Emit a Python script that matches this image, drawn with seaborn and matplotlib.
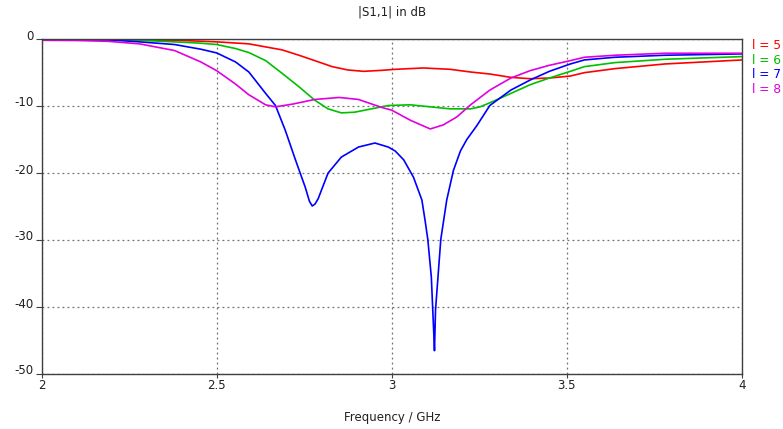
import matplotlib
matplotlib.use("Agg")
import matplotlib.pyplot as plt
import matplotlib.transforms as mtransforms
import seaborn as sns
import pandas as pd

# ---------------- data ----------------
freq_l5 = [2.00, 2.38, 2.455, 2.50, 2.592, 2.687, 2.735, 2.78, 2.83, 2.875, 2.92, 2.972, 3.01,
           3.09, 3.167, 3.225, 3.28, 3.34, 3.395, 3.45, 3.51, 3.55, 3.637, 3.78, 4.00]
s11_l5 = [-0.1, -0.27, -0.4, -0.5, -0.8, -1.7, -2.5, -3.3, -4.2, -4.7, -4.9, -4.75, -4.6,
          -4.4, -4.6, -5.0, -5.3, -5.8, -6.0, -5.9, -5.6, -5.1, -4.5, -3.8, -3.2]

freq_l6 = [2.00, 2.28, 2.38, 2.455, 2.50, 2.554, 2.592, 2.64, 2.687, 2.735, 2.78, 2.818, 2.856,
           2.894, 2.942, 2.99, 3.053, 3.11, 3.167, 3.225, 3.252, 3.28, 3.34, 3.395, 3.45, 3.51,
           3.55, 3.637, 3.78, 4.00]
s11_l6 = [-0.1, -0.27, -0.5, -0.7, -0.9, -1.5, -2.1, -3.3, -5.2, -7.2, -9.2, -10.5, -11.1,
          -11.0, -10.5, -10.0, -9.9, -10.2, -10.5, -10.5, -10.2, -9.6, -8.2, -6.9, -5.9, -4.9,
          -4.2, -3.6, -3.1, -2.7]

freq_l7 = [2.00, 2.19, 2.28, 2.38, 2.455, 2.50, 2.554, 2.592, 2.64, 2.668, 2.696, 2.725, 2.753,
           2.765, 2.773, 2.781, 2.79, 2.818, 2.856, 2.905, 2.952, 2.99, 3.01, 3.034, 3.062,
           3.086, 3.095, 3.103, 3.113, 3.12, 3.122, 3.125, 3.132, 3.14, 3.157, 3.176, 3.196,
           3.214, 3.243, 3.28, 3.34, 3.395, 3.45, 3.51, 3.55, 3.637, 3.78, 4.00]
s11_l7 = [-0.2, -0.2, -0.5, -0.9, -1.6, -2.15, -3.5, -5.0, -8.2, -10.0, -13.7, -18.1, -22.2,
          -24.3, -25.0, -24.7, -23.9, -20.1, -17.7, -16.2, -15.6, -16.2, -16.8, -18.1, -20.7,
          -24.1, -27.1, -30.0, -35.6, -44.0, -46.6, -40.5, -35.6, -30.0, -24.1, -19.7, -16.8,
          -15.1, -13.0, -10.0, -7.7, -6.2, -4.9, -3.8, -3.2, -2.8, -2.5, -2.3]

freq_l8 = [2.00, 2.10, 2.19, 2.28, 2.38, 2.455, 2.50, 2.554, 2.592, 2.64, 2.668, 2.716, 2.78,
           2.85, 2.905, 2.972, 3.00, 3.053, 3.11, 3.147, 3.186, 3.225, 3.28, 3.34, 3.395, 3.45,
           3.51, 3.55, 3.637, 3.78, 4.00]
s11_l8 = [-0.27, -0.3, -0.42, -0.8, -1.8, -3.5, -4.8, -6.8, -8.4, -9.9, -10.2, -9.8, -9.1,
          -8.8, -9.1, -10.3, -10.7, -12.2, -13.5, -12.9, -11.7, -9.9, -7.7, -5.9, -4.8, -4.0,
          -3.3, -2.8, -2.5, -2.2, -2.2]

series_labels = ["l = 5", "l = 6", "l = 7", "l = 8"]
series_colors = ["#ff0000", "#00c000", "#0000ff", "#e000e0"]

xticks = [2, 2.5, 3, 3.5, 4]
xtick_labels = ["2", "2.5", "3", "3.5", "4"]
yticks = [0, -10, -20, -30, -40, -50]
ytick_labels = ["0", "-10", "-20", "-30", "-40", "-50"]

title_text = "|S1,1| in dB"
xlabel_text = "Frequency / GHz"

# ---------------- build long-form table ----------------
frames = []
for f, s, lab in zip([freq_l5, freq_l6, freq_l7, freq_l8],
                     [s11_l5, s11_l6, s11_l7, s11_l8], series_labels):
    frames.append(pd.DataFrame({"freq": f, "s11": s, "series": lab}))
df = pd.concat(frames, ignore_index=True)

# ---------------- plot ----------------
sns.set_style("white")
plt.rcParams["font.family"] = ["DejaVu Sans"]

W, H, DPI = 783, 429, 100
fig = plt.figure(figsize=(W / DPI, H / DPI), dpi=DPI)
ax = fig.add_axes([41.5 / W, 1 - 373.5 / H, (742 - 41.5) / W, (373.5 - 38.5) / H])

sns.lineplot(data=df, x="freq", y="s11", hue="series", hue_order=series_labels,
             palette=dict(zip(series_labels, series_colors)), sort=True,
             estimator=None, linewidth=1.2, ax=ax, legend=False)

ax.set_xlim(2, 4)
ax.set_ylim(-50, 0)
ax.set_xticks(xticks)
ax.set_xticklabels(xtick_labels)
ax.set_yticks(yticks)
ax.set_yticklabels(ytick_labels)

ax.grid(True, color="#707070", linestyle=(0, (1.5, 2.5)), linewidth=0.9)
ax.set_axisbelow(True)
for sp in ax.spines.values():
    sp.set_visible(True)
    sp.set_color("#404040")
    sp.set_linewidth(1.0)

ax.tick_params(axis="y", which="both", left=True, length=4, width=0.8, color="#404040",
               pad=2, labelsize=8.5, labelcolor="#202020")
ax.tick_params(axis="x", which="both", bottom=True, length=3, width=0.8, color="#404040",
               pad=1, labelsize=8.5, labelcolor="#202020")
shift = mtransforms.ScaledTranslation(0, 4 / DPI, fig.dpi_scale_trans)
for lab in ax.get_yticklabels():
    lab.set_transform(lab.get_transform() + shift)

ax.set_xlabel("")
ax.set_ylabel("")
fig.text(391.8 / W, 1 - 417 / H, xlabel_text, ha="center", va="center", fontsize=8.5,
         color="#202020")
fig.text(391.8 / W, 1 - 12 / H, title_text, ha="center", va="center", fontsize=8.5,
         color="#202020")

# legend: coloured text only
for i, (lab, col) in enumerate(zip(series_labels, series_colors)):
    fig.text(752 / W, 1 - (45.5 + 14.6 * i) / H, lab, color=col, fontsize=8.8,
             ha="left", va="center")

fig.savefig("out.png", dpi=DPI)
